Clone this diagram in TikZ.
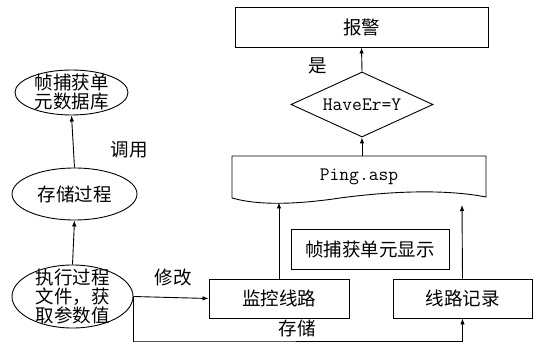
\documentclass[tikz,border=0pt]{standalone}
\usepackage{fontspec}
\setmainfont{Noto Sans CJK SC}
\usetikzlibrary{shapes.geometric,arrows.meta}
\tikzset{
  base/.style={line width=0.9pt},
  proc/.style={base,draw,rectangle,inner sep=0pt},
  oval/.style={base,draw,ellipse,inner xsep=-25pt,inner ysep=-30pt,align=center},
  conn/.style={base,-{Latex[length=6pt,width=4.5pt]}},
  lbl/.style={inner sep=0pt},
  every node/.style={font=\fontsize{18.5}{19}\selectfont}
}
\begin{document}
\begin{tikzpicture}[x=1pt,y=-1pt]
\useasboundingbox (0,0) rectangle (537,344);

% left column: database, stored procedure, executing file
\node[oval,minimum width=113pt,minimum height=45pt] (db) at (71.5,92.5) {帧捕获单\\元数据库};
\node[oval,minimum width=125pt,minimum height=52pt] (sp) at (74.5,194) {存储过程};
\node[oval,minimum width=121pt,minimum height=63pt] (ex) at (72.5,296.5) {执行过程\\文件，获\\取参数值};

% right column
\node[proc,minimum width=253pt,minimum height=40pt] (alarm) at (361.5,27) {报警};
\node[base,draw,diamond,shape aspect=2.18,inner sep=0pt,minimum width=142pt,minimum height=65pt] (chk) at (362,104.5) {\ttfamily\fontsize{19}{19}\selectfont HaveEr=Y};

% document shape with wavy bottom
\node[lbl,minimum width=254pt,minimum height=40pt] (doc) at (359,177) {\ttfamily\fontsize{19}{19}\selectfont Ping.asp};
\draw[base] (232,156) -- (486,156) -- (486,197)
  .. controls (450,190) and (400,190) .. (340,198)
  .. controls (300,204) and (260,206) .. (232,198) -- cycle;

\node[proc,minimum width=158pt,minimum height=40pt] (disp) at (370,249) {帧捕获单元显示};
\node[proc,minimum width=140pt,minimum height=39pt] (mon) at (279,298.5) {监控线路};
\node[proc,minimum width=139pt,minimum height=39pt] (rec) at (462.5,298.5) {线路记录};

% connectors
\coordinate (low) at (133,341);
\coordinate (monend) at (279,202.5);
\coordinate (recend) at (462,205);
\coordinate (doctop) at (362,156);
\draw[conn] (sp.north) -- (db.south);
\draw[conn] (ex.north) -- (sp.south);
\draw[conn] (ex.east) -- (mon.west);
\draw[conn] (mon.north) -- (monend);
\draw[conn] (rec.north) -- (recend);
\draw[conn] (ex.east) |- (low) -| (rec.south);
\draw[conn] (doctop) -- (chk.south);
\draw[conn] (chk.north) -- (alarm.south);

% labels
\node[lbl] at (129,150) {调用};
\node[lbl] at (173,277) {修改};
\node[lbl] at (297,328) {存储};
\node[lbl] at (318,66) {是};
\end{tikzpicture}
\end{document}
